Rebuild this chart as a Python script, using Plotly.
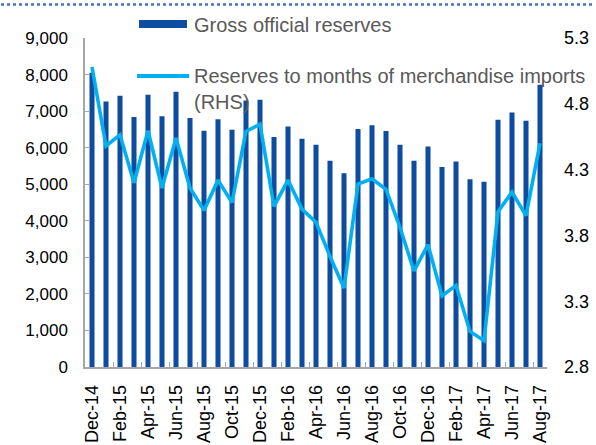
import plotly.graph_objects as go

months = ["Dec-14", "Jan-15", "Feb-15", "Mar-15", "Apr-15", "May-15", "Jun-15", "Jul-15",
          "Aug-15", "Sep-15", "Oct-15", "Nov-15", "Dec-15", "Jan-16", "Feb-16", "Mar-16",
          "Apr-16", "May-16", "Jun-16", "Jul-16", "Aug-16", "Sep-16", "Oct-16", "Nov-16",
          "Dec-16", "Jan-17", "Feb-17", "Mar-17", "Apr-17", "May-17", "Jun-17", "Jul-17",
          "Aug-17"]

gross_reserves = [8050, 7260, 7420, 6840, 7445, 6860, 7530, 6810,
                  6460, 6780, 6490, 7290, 7310, 6290, 6580, 6245,
                  6080, 5645, 5300, 6510, 6610, 6455, 6080, 5645,
                  6030, 5470, 5620, 5135, 5065, 6765, 6965, 6735,
                  7720]

months_imports = [5.08, 4.48, 4.565, 4.20, 4.595, 4.16, 4.54, 4.16,
                  3.99, 4.22, 4.05, 4.59, 4.645, 4.02, 4.22, 4.00,
                  3.90, 3.64, 3.40, 4.19, 4.23, 4.15, 3.86, 3.53,
                  3.73, 3.34, 3.42, 3.07, 3.00, 3.98, 4.13, 3.95,
                  4.50]

left_ticks = [0, 1000, 2000, 3000, 4000, 5000, 6000, 7000, 8000, 9000]
right_ticks = [2.8, 3.3, 3.8, 4.3, 4.8, 5.3]

BAR = "#0E4CA1"
LINE = "#00B0F0"
FONT = "Liberation Sans, Arial, sans-serif"

fig = go.Figure()
fig.add_trace(go.Bar(x=months, y=gross_reserves, marker=dict(color=BAR, line=dict(width=0)),
                     width=0.36, name="Gross official reserves", yaxis="y"))
fig.add_trace(go.Scatter(x=months, y=months_imports, mode="lines",
                         line=dict(color=LINE, width=3.6),
                         name="Reserves to months of merchandise imports (RHS)", yaxis="y2"))

fig.update_layout(
    width=596, height=445,
    margin=dict(l=85, r=49, t=38, b=78, autoexpand=False),
    paper_bgcolor="white", plot_bgcolor="white",
    showlegend=False,
    font=dict(family=FONT, size=17, color="black"),
    xaxis=dict(type="category", tickmode="linear", tick0=0, dtick=2, tickson="boundaries",
               ticks="inside", ticklen=5, tickcolor="#A6A6A6", tickwidth=1,
               showline=True, linecolor="#A6A6A6", linewidth=1.5,
               showgrid=False, tickangle=-90, tickfont=dict(size=18),
               ticklabelstandoff=9, range=[-0.5, 32.5], automargin=False),
    yaxis=dict(range=[0, 9000], tickvals=left_ticks, tickformat=",", showgrid=False,
               zeroline=False, automargin=False,
               showline=True, linecolor="#A6A6A6", linewidth=1.5,
               ticks="inside", ticklen=5, tickcolor="#A6A6A6",
               ticklabelstandoff=12, tickfont=dict(size=17)),
    yaxis2=dict(range=[2.8, 5.3], tickvals=right_ticks, tickformat=".1f",
                overlaying="y", side="right", showgrid=False, zeroline=False,
                automargin=False,
                showline=False, ticks="", ticklabelstandoff=16, tickfont=dict(size=18)),
)

def px_x(p):
    return (p - 85) / 462.0

def px_y(p):
    return (367 - p) / 329.0

# legend (drawn manually to match the original swatches)
fig.add_shape(type="rect", xref="paper", yref="paper",
              x0=px_x(139), x1=px_x(187), y0=px_y(28), y1=px_y(20),
              fillcolor=BAR, line=dict(width=0))
fig.add_annotation(xref="paper", yref="paper", x=px_x(192), y=px_y(25),
                   xanchor="left", yanchor="middle", showarrow=False,
                   text="Gross official reserves",
                   font=dict(family=FONT, size=20, color="#595959"))
fig.add_shape(type="line", xref="paper", yref="paper",
              x0=px_x(137), x1=px_x(189), y0=px_y(76), y1=px_y(76),
              line=dict(color=LINE, width=4))
fig.add_annotation(xref="paper", yref="paper", x=px_x(192), y=px_y(63),
                   xanchor="left", yanchor="top", showarrow=False, align="left",
                   text="Reserves to months of merchandise imports<br>(RHS)",
                   font=dict(family=FONT, size=20, color="#595959"))

# dotted frame line at the top of the picture
fig.add_shape(type="line", xref="paper", yref="paper", layer="above",
              x0=px_x(1), x1=px_x(595), y0=px_y(4.5), y1=px_y(4.5),
              line=dict(color="#4472C4", width=2.5, dash="dot"))

fig.write_html("out.html", config={"displayModeBar": False},
               post_script="document.body.style.margin='0px';")
